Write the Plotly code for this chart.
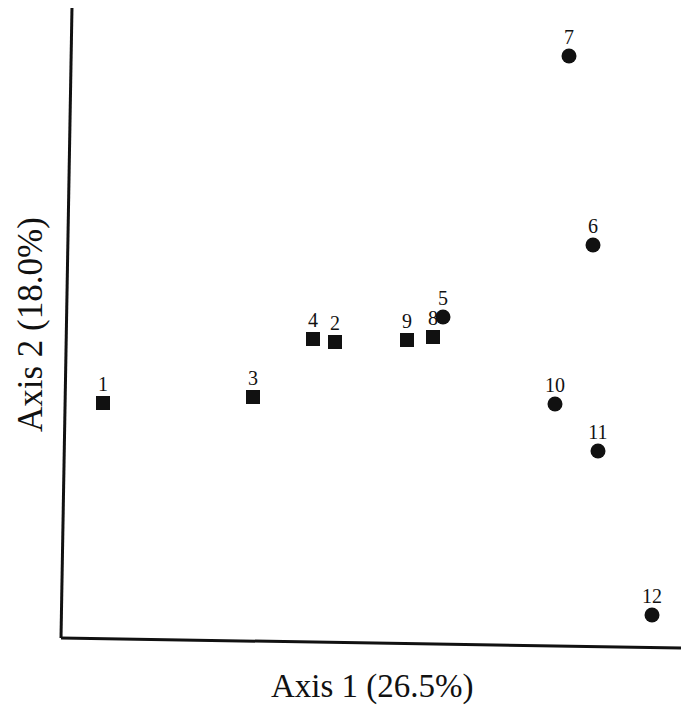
import plotly.graph_objects as go

# Ordination scores (arbitrary units)
sq_labels = ["1", "3", "4", "2", "9", "8"]
sq_x = [42, 192, 252, 274, 346, 372]
sq_y = [245, 251, 309, 306, 308, 311]

ci_labels = ["5", "7", "6", "10", "11", "12"]
ci_x = [382, 508, 532, 494, 537, 591]
ci_y = [331, 592, 403, 244, 197, 33]

x_title = "Axis 1 (26.5%)"
y_title = "Axis 2 (18.0%)"

font_family = "Liberation Serif"
label_offset = 17  # vertical offset of point labels (data units)

fig = go.Figure()
fig.add_trace(go.Scatter(
    x=sq_x, y=sq_y, mode="markers",
    marker=dict(symbol="square", size=14, color="#111"),
    showlegend=False, cliponaxis=False))
fig.add_trace(go.Scatter(
    x=ci_x, y=ci_y, mode="markers",
    marker=dict(symbol="circle", size=15, color="#111"),
    showlegend=False, cliponaxis=False))
fig.add_trace(go.Scatter(
    x=sq_x + ci_x, y=[v + label_offset for v in sq_y + ci_y],
    mode="text", text=sq_labels + ci_labels,
    textposition="middle center",
    textfont=dict(family=font_family, size=20, color="#111"),
    showlegend=False, cliponaxis=False))

fig.update_layout(
    width=681, height=707,
    margin=dict(l=61, r=0, t=8, b=59),
    paper_bgcolor="white", plot_bgcolor="white",
    xaxis=dict(range=[0, 620], showgrid=False, zeroline=False,
               showticklabels=False, ticks="", showline=False),
    yaxis=dict(range=[0, 640], showgrid=False, zeroline=False,
               showticklabels=False, ticks="", showline=False),
    shapes=[
        dict(type="line", xref="paper", yref="paper",
             x0=0.0177, y0=1.0, x1=0.0, y1=0.0156,
             line=dict(color="#111", width=3)),
        dict(type="line", xref="paper", yref="paper",
             x0=0.0, y0=0.0156, x1=1.0, y1=0.0,
             line=dict(color="#111", width=3)),
    ],
    annotations=[
        dict(text=x_title, xref="paper", yref="paper",
             x=(372 - 61) / 620, y=(648 - 686) / 640,
             showarrow=False, xanchor="center", yanchor="middle",
             font=dict(family=font_family, size=33, color="#111")),
        dict(text=y_title, xref="paper", yref="paper",
             x=(30 - 61) / 620, y=(648 - 325) / 640,
             showarrow=False, xanchor="center", yanchor="middle",
             textangle=-90,
             font=dict(family=font_family, size=35, color="#111")),
    ],
)

fig.write_html("out.html")
